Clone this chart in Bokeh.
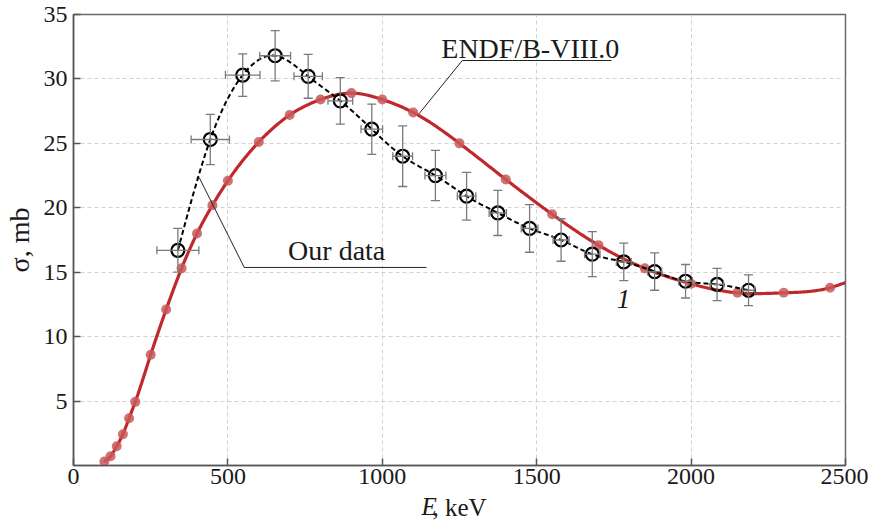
import numpy as np
from bokeh.plotting import figure
from bokeh.models import (Range1d, FixedTicker, Label, ColumnDataSource, Whisker, TeeHead,
                          LinearAxis, CustomJSTickFormatter)
from bokeh.embed import file_html
from bokeh.resources import INLINE

# ---------------- data ----------------
# ENDF/B-VIII.0 evaluated points
endf_e = [100, 120, 140, 160, 180, 200, 250, 300, 350, 400, 450, 500, 600, 700, 800,
          900, 1000, 1100, 1250, 1400, 1550, 1700, 1850, 2000, 2150, 2300, 2450]
endf_sigma = [0.31, 0.72, 1.5, 2.43, 3.67, 4.94, 8.6, 12.1, 15.3, 18.0, 20.2, 22.1, 25.1, 27.2, 28.4,
              28.9, 28.4, 27.4, 25.0, 22.2, 19.5, 17.1, 15.3, 14.1, 13.4, 13.4, 13.8]
endf_tail_e = [2500]
endf_tail_sigma = [14.2]

# Our data (measured)
our_e = [338, 443, 548, 653, 760, 864, 966, 1066, 1172, 1273, 1374, 1477, 1579, 1680,
         1782, 1882, 1982, 2084, 2186]
our_sigma = [16.7, 25.3, 30.3, 31.8, 30.2, 28.3, 26.1, 24.0, 22.5, 20.9, 19.6, 18.4, 17.5, 16.4,
             15.8, 15.05, 14.3, 14.05, 13.6]
our_dsigma = [1.7, 1.95, 1.65, 1.95, 1.7, 1.8, 1.95, 2.35, 1.95, 1.85, 1.75, 1.85, 1.65, 1.75,
              1.45, 1.45, 1.3, 1.25, 1.2]
our_de = [68, 62, 56, 50, 46, 40, 35, 32, 34, 30, 28, 27, 26, 25, 24, 23, 22, 21, 20]

x_ticks = [0, 500, 1000, 1500, 2000, 2500]
y_ticks = [5, 10, 15, 20, 25, 30, 35]

x_title_var = "E"
x_title_unit = ", keV"
y_title = "σ, mb"

# annotation anchors (data coordinates)
endf_label_pos = (1191, 32.4)
endf_leader = ([1119, 1259, 1742], [27.3, 31.43, 31.43])
our_label_pos = (695, 16.66)
our_leader = ([407, 553, 1143], [22.35, 15.37, 15.37])
curve_num_pos = (1781, 12.96)
x_title_var_at = 1152
x_title_unit_bounds = (1100, 1452)

SERIF = "Liberation Serif"
INK = "#1a1a1a"


def natural_spline(x, y, xs):
    x = np.asarray(x, float)
    y = np.asarray(y, float)
    n = len(x)
    h = np.diff(x)
    A = np.zeros((n, n))
    r = np.zeros(n)
    A[0, 0] = 1
    A[-1, -1] = 1
    for i in range(1, n - 1):
        A[i, i - 1] = h[i - 1]
        A[i, i] = 2 * (h[i - 1] + h[i])
        A[i, i + 1] = h[i]
        r[i] = 3 * ((y[i + 1] - y[i]) / h[i] - (y[i] - y[i - 1]) / h[i - 1])
    c = np.linalg.solve(A, r)
    b = (y[1:] - y[:-1]) / h - h * (2 * c[:-1] + c[1:]) / 3
    d = (c[1:] - c[:-1]) / (3 * h)
    idx = np.clip(np.searchsorted(x, xs) - 1, 0, n - 2)
    dx = xs - x[idx]
    return y[idx] + b[idx] * dx + c[idx] * dx ** 2 + d[idx] * dx ** 3


p = figure(width=868, height=527, output_backend="svg", toolbar_location=None,
           x_range=Range1d(0, 2500), y_range=Range1d(0, 35),
           min_border_left=72, min_border_right=23, min_border_top=14, min_border_bottom=62)
p.background_fill_color = "white"
p.border_fill_color = "white"
p.outline_line_color = "#6a6a6a"
p.outline_line_width = 1.5

for ax in (p.xaxis[0], p.yaxis[0]):
    ax.axis_line_color = "#555555"
    ax.axis_line_width = 1.5
    ax.major_tick_in = 7
    ax.major_tick_out = 0
    ax.minor_tick_in = 0
    ax.minor_tick_out = 0
    ax.major_tick_line_color = "#555555"
    ax.major_tick_line_width = 1.5
    ax.major_label_text_font = SERIF
    ax.major_label_text_font_size = "24px"
    ax.major_label_text_color = INK
p.xaxis.ticker = FixedTicker(ticks=x_ticks)
p.yaxis.ticker = FixedTicker(ticks=y_ticks)
p.xaxis.major_label_standoff = 3
p.yaxis.major_label_standoff = 6

p.yaxis.axis_label = y_title
p.yaxis.axis_label_text_font = SERIF
p.yaxis.axis_label_text_font_size = "28px"
p.yaxis.axis_label_text_font_style = "normal"
p.yaxis.axis_label_text_color = INK
p.yaxis.axis_label_standoff = 6

# x title: italic variable as a tick label + unit as the axis label on the same row
xt = LinearAxis(ticker=FixedTicker(ticks=[x_title_var_at]), bounds=x_title_unit_bounds,
                formatter=CustomJSTickFormatter(code="return '%s'" % x_title_var),
                axis_line_color=None, major_tick_in=0, major_tick_out=0,
                minor_tick_in=0, minor_tick_out=0,
                major_label_text_font=SERIF, major_label_text_font_size="25px",
                major_label_text_font_style="italic", major_label_text_color=INK,
                major_label_standoff=6,
                axis_label=x_title_unit, axis_label_text_font=SERIF,
                axis_label_text_font_size="25px", axis_label_text_font_style="normal",
                axis_label_text_color=INK, axis_label_standoff=-29)
p.add_layout(xt, "below")

p.xgrid.ticker = FixedTicker(ticks=x_ticks[1:-1])
p.ygrid.ticker = FixedTicker(ticks=y_ticks[:-1])
for g in (p.xgrid[0], p.ygrid[0]):
    g.grid_line_color = "#d2d2d2"
    g.grid_line_dash = "4 3"
    g.grid_line_width = 1

# ENDF curve
ce = np.array(endf_e + endf_tail_e, float)
cs = np.array(endf_sigma + endf_tail_sigma, float)
xs = np.linspace(ce[0], ce[-1], 600)
p.line(xs, natural_spline(ce, cs, xs), line_color="#c0282c", line_width=3.2)
p.scatter(endf_e, endf_sigma, marker="circle", size=10, fill_color="#c95858",
          fill_alpha=0.85, line_color=None)

# error bars
src = ColumnDataSource(dict(
    e=our_e, s=our_sigma,
    s_lo=[s - d for s, d in zip(our_sigma, our_dsigma)],
    s_hi=[s + d for s, d in zip(our_sigma, our_dsigma)],
    e_lo=[e - d for e, d in zip(our_e, our_de)],
    e_hi=[e + d for e, d in zip(our_e, our_de)],
))
ERR = "#7a7a7a"
wv = Whisker(source=src, base="e", lower="s_lo", upper="s_hi", dimension="height",
             line_color=ERR, line_width=1.3, level="glyph",
             upper_head=TeeHead(size=9, line_color=ERR, line_width=1.3),
             lower_head=TeeHead(size=9, line_color=ERR, line_width=1.3))
wh = Whisker(source=src, base="s", lower="e_lo", upper="e_hi", dimension="width",
             line_color=ERR, line_width=1.3, level="glyph",
             upper_head=TeeHead(size=8, line_color=ERR, line_width=1.3),
             lower_head=TeeHead(size=8, line_color=ERR, line_width=1.3))
p.add_layout(wv)
p.add_layout(wh)

# our data dashed curve
xo = np.linspace(our_e[0], our_e[-1], 600)
p.line(xo, natural_spline(our_e, our_sigma, xo), line_color="black", line_width=2,
       line_dash="5 3")
p.scatter("e", "s", source=src, marker="circle", size=13, fill_color=None,
          line_color="black", line_width=2.2)

# annotations
p.line(endf_leader[0], endf_leader[1], line_color="#222222", line_width=1)
p.line(our_leader[0], our_leader[1], line_color="#222222", line_width=1)
p.add_layout(Label(x=endf_label_pos[0], y=endf_label_pos[1], text="ENDF/B-VIII.0",
                   text_font=SERIF, text_font_size="28px", text_color=INK,
                   text_baseline="alphabetic"))
p.add_layout(Label(x=our_label_pos[0], y=our_label_pos[1], text="Our data",
                   text_font=SERIF, text_font_size="28px", text_color=INK,
                   text_baseline="alphabetic"))
p.add_layout(Label(x=curve_num_pos[0], y=curve_num_pos[1], text="1",
                   text_font=SERIF, text_font_size="27px", text_font_style="italic",
                   text_color=INK, text_align="center", text_baseline="middle"))

open("out.html", "w").write(file_html(p, INLINE))
